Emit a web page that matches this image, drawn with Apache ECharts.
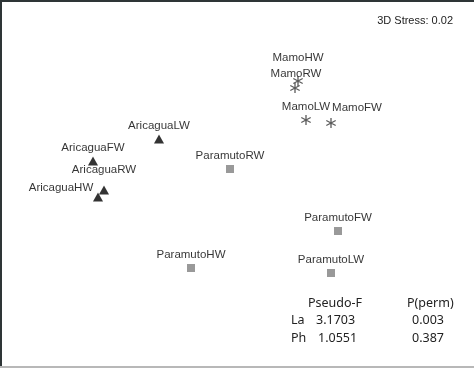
<!DOCTYPE html>
<html>
<head>
    <meta charset="utf-8">
    <title>nMDS</title>
    <script type="text/javascript" src="https://cdn.jsdelivr.net/npm/echarts@6/dist/echarts.min.js"></script>
    <style>
        *{
            margin:0;
            padding:0;
        }
        body{
            background:#fff;
        }
    </style>
</head>
<body>
<div id="main" style="width:474px;height:368px;"></div>
<script type="text/javascript">
    // nMDS ordination (arbitrary units)
    var aricaguaNames = ['AricaguaLW', 'AricaguaFW', 'AricaguaRW', 'AricaguaHW'];
    var aricaguaX = [-0.78, -1.44, -1.33, -1.39];
    var aricaguaY = [0.45, 0.23, -0.06, -0.13];

    var paramutoNames = ['ParamutoRW', 'ParamutoFW', 'ParamutoHW', 'ParamutoLW'];
    var paramutoX = [-0.07, 1.01, -0.46, 0.94];
    var paramutoY = [0.15, -0.47, -0.84, -0.89];

    var mamoNames = ['MamoHW', 'MamoRW', 'MamoLW', 'MamoFW'];
    var mamoX = [0.61, 0.58, 0.69, 0.94];
    var mamoY = [1.03, 0.96, 0.64, 0.61];

    var stressText = '3D Stress: 0.02';
    var tableHead = ['Pseudo-F', 'P(perm)'];
    var tableRows = ['La', 'Ph'];
    var pseudoF = ['3.1703', '1.0551'];
    var pPerm = ['0.003', '0.387'];

    // label placement tweaks (px)
    var labelShift = {
        AricaguaRW: [0, -20],
        AricaguaHW: [-37, -9],
        MamoHW: [0, -23],
        MamoRW: [1, -14],
        MamoFW: [26, -15]
    };

    var asterisk = 'path://M4.4 0L5.6 0L5.6 10L4.4 10Z' +
        'M0.95 2.0L9.6 7.0L9.05 8.0L0.4 3.0Z' +
        'M0.4 7.0L9.05 2.0L9.6 3.0L0.95 8.0Z';

    function pts(names, xs, ys) {
        return names.map(function (n, i) {
            var d = {name: n, value: [xs[i], ys[i]]};
            var s = labelShift[n];
            d.label = {offset: s ? s : [0, -13]};
            return d;
        });
    }

    var labelStyle = {
        show: true,
        position: 'inside',
        formatter: '{b}',
        color: '#000',
        fontFamily: 'Liberation Sans',
        fontSize: 11.5
    };

    var tFont = {fontFamily: 'Noto Sans', fontSize: 12.5, fill: '#222'};

    function txt(x, y, s, align) {
        return {
            type: 'text', left: x, top: y,
            style: Object.assign({text: s, textAlign: align || 'left'}, tFont)
        };
    }

    var dom = document.getElementById('main');
    var myChart = echarts.init(dom);
    var option = {
        animation: false,
        grid: {left: 0, right: 0, top: 0, bottom: 0},
        xAxis: {type: 'value', min: -2.37, max: 2.37, show: false},
        yAxis: {type: 'value', min: -1.84, max: 1.84, show: false},
        graphic: [
            {type: 'rect', shape: {x: 0, y: 0, width: 474, height: 2}, style: {fill: '#2e3536'}},
            {type: 'rect', shape: {x: 0, y: 0, width: 2, height: 368}, style: {fill: '#2e3536'}},
            {type: 'rect', shape: {x: 0, y: 366, width: 474, height: 2}, style: {fill: '#b8b8b8'}},
            {
                type: 'text', right: 21, top: 15,
                style: {text: stressText, fontFamily: 'Liberation Sans', fontSize: 11, fill: '#222'}
            },
            txt(308, 297, tableHead[0]),
            txt(407, 297, tableHead[1]),
            txt(291, 314, tableRows[0]),
            txt(316, 314, pseudoF[0]),
            txt(412, 314, pPerm[0]),
            txt(291, 332, tableRows[1]),
            txt(318, 332, pseudoF[1]),
            txt(412, 332, pPerm[1])
        ],
        series: [
            {
                name: 'Aricagua',
                type: 'scatter',
                symbol: 'triangle',
                symbolSize: [10, 9],
                itemStyle: {color: '#000'},
                label: labelStyle,
                data: pts(aricaguaNames, aricaguaX, aricaguaY)
            },
            {
                name: 'Paramuto',
                type: 'scatter',
                symbol: 'rect',
                symbolSize: 8,
                itemStyle: {color: '#7f7f7f'},
                label: labelStyle,
                data: pts(paramutoNames, paramutoX, paramutoY)
            },
            {
                name: 'Mamo',
                type: 'scatter',
                symbol: asterisk,
                symbolSize: 10,
                itemStyle: {color: '#333'},
                label: labelStyle,
                data: pts(mamoNames, mamoX, mamoY)
            }
        ]
    };
    myChart.setOption(option, true);
</script>
</body>
</html>
